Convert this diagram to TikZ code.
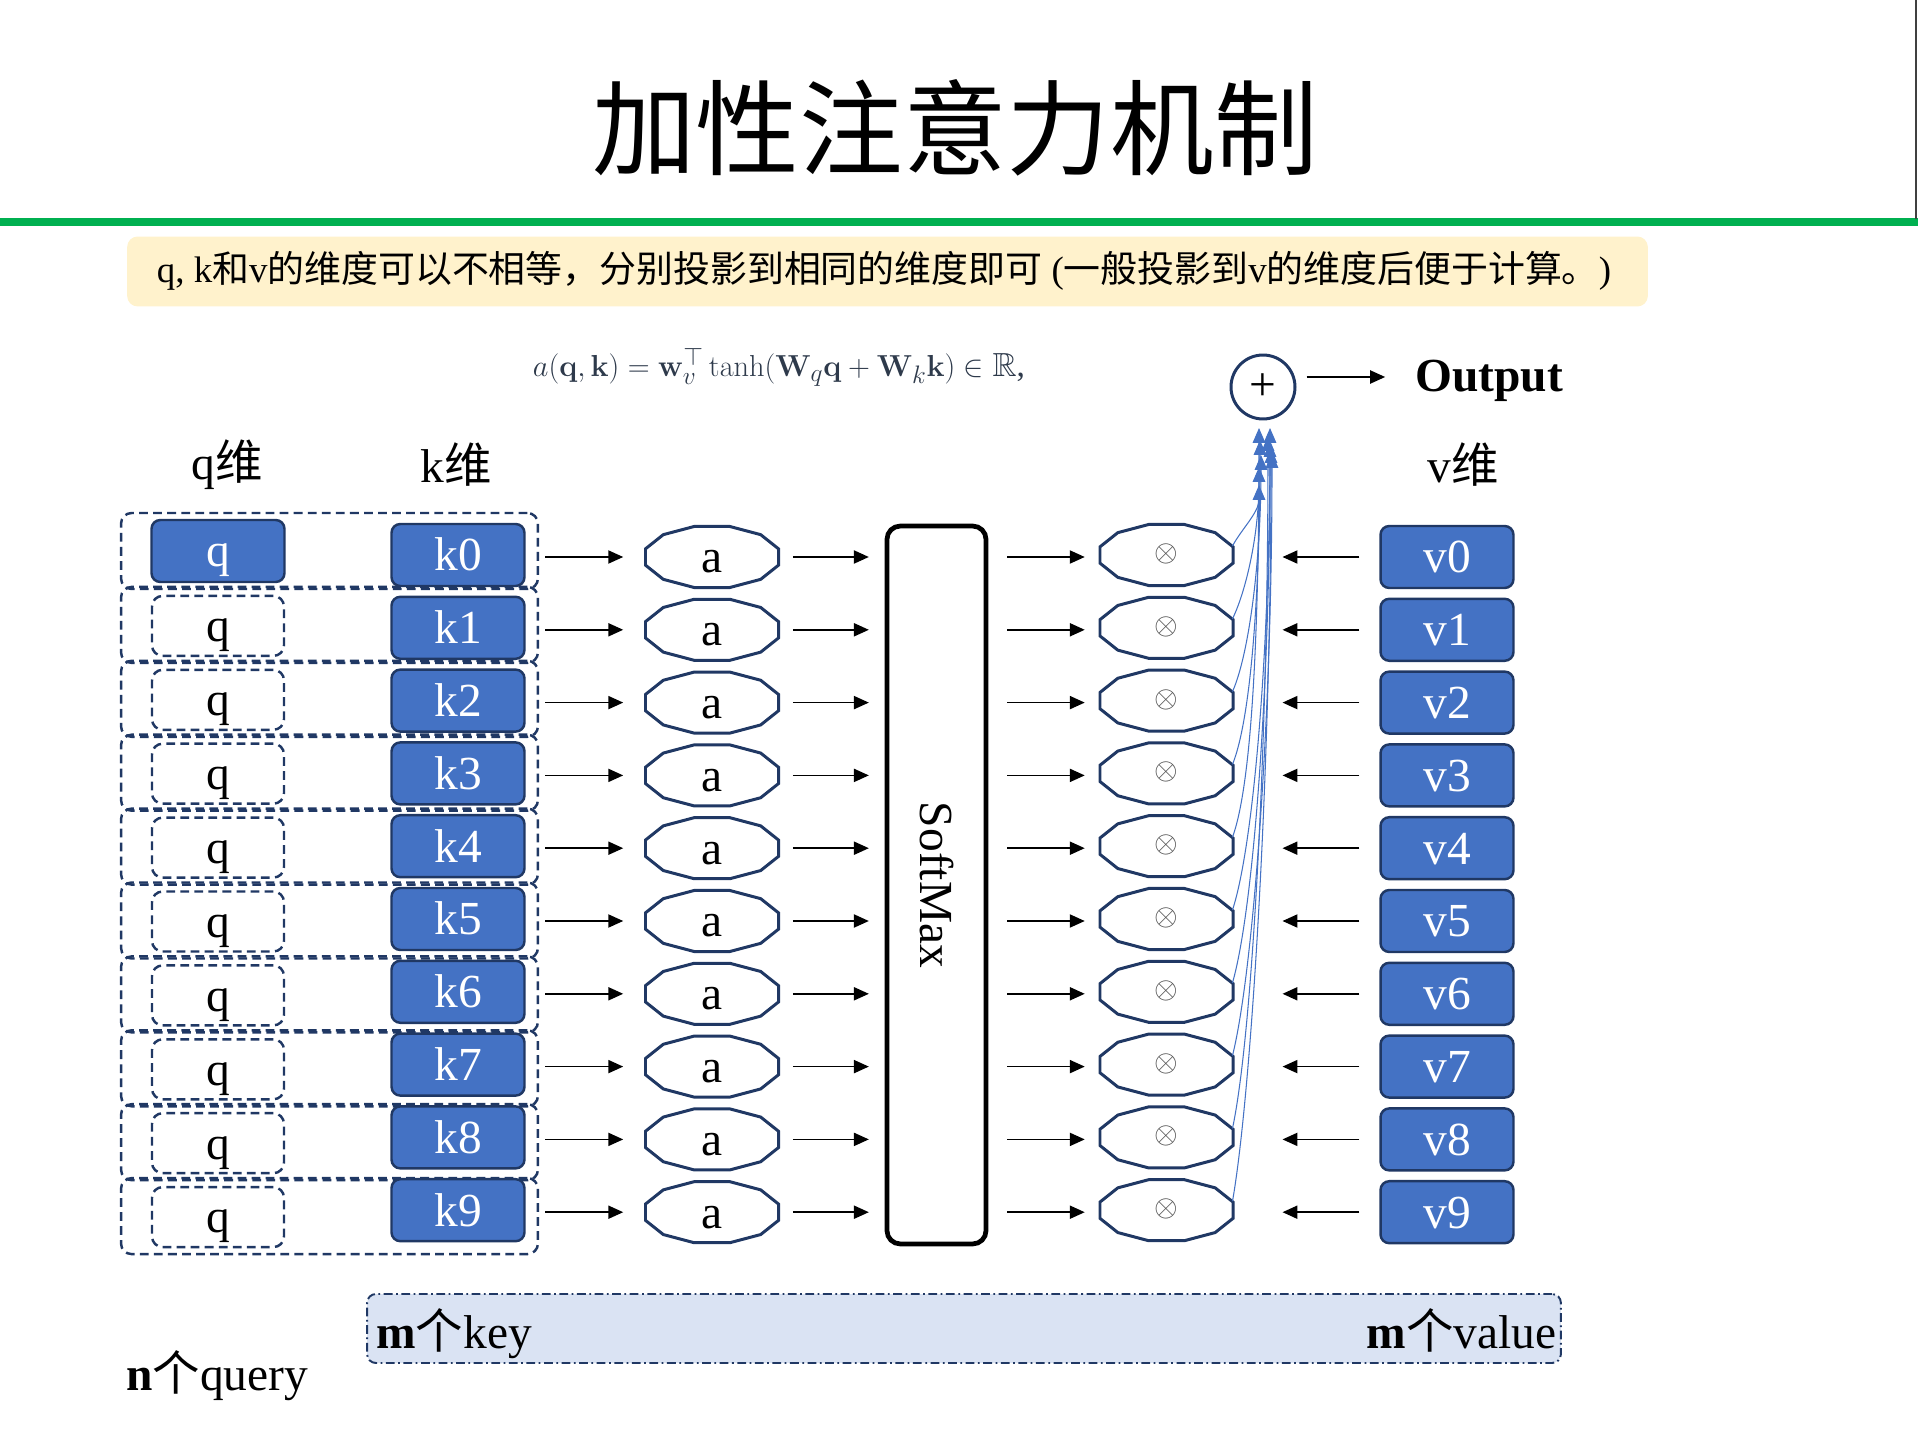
\documentclass[tikz,border=0pt]{standalone}
\usepackage{amsmath,amssymb}
\usepackage[no-math]{fontspec}
\setmainfont{Liberation Serif}
\newfontfamily\cjk{Noto Sans CJK SC}
\usetikzlibrary{arrows.meta,calc}

\definecolor{dnavy}{HTML}{203864}
\definecolor{boxblue}{HTML}{4472C4}
\definecolor{paleyellow}{HTML}{FFF2CC}
\definecolor{paleblue}{HTML}{DAE3F3}
\definecolor{rulegreen}{HTML}{00B050}
\definecolor{slate}{HTML}{2E3A4B}

\begin{document}
\begin{tikzpicture}[x=0.02cm,y=-0.02cm,
  lbl/.style={font=\fontsize{27}{32}\selectfont},
  boxtext/.style={lbl, inner sep=0pt, text height=18pt, text depth=0pt},
  kbox/.style={boxtext, draw=dnavy, line width=1.4pt, fill=boxblue, text=white,
    rounded corners=5pt, minimum width=2.66cm, minimum height=1.24cm},
  qdash/.style={boxtext, draw=dnavy, line width=1.4pt, dash pattern=on 5pt off 3pt,
    rounded corners=6pt, minimum width=2.64cm, minimum height=1.20cm},
  rowbox/.style={draw=dnavy, line width=1.4pt, dash pattern=on 5pt off 3pt,
    rounded corners=6pt, minimum width=8.34cm, minimum height=1.52cm, inner sep=0pt},
  polytext/.style={boxtext, minimum width=2.66cm, minimum height=1.22cm},
  multext/.style={inner sep=0pt, minimum width=2.66cm, minimum height=1.22cm,
    font=\fontsize{19}{22}\selectfont, text=black!68},
  poly/.style={draw=dnavy, line width=1.7pt, fill=white},
  arr/.style={-{Triangle[length=8.5pt,width=7.5pt]}, line width=0.85pt},
  sumarr/.style={-{Triangle[length=8.5pt,width=7.2pt]}, line width=0.6pt, draw=boxblue},
]
\useasboundingbox (0,0) rectangle (1918,1439);

% heading, rule and note
\node[font=\cjk\fontsize{59}{70}\selectfont] (title) at (955,128) {加性注意力机制};
\draw[line width=4pt, rulegreen] (0,222) -- (1918,222);
\draw[line width=1pt, black!75] (1916,0) -- (1916,219);
\node[fill=paleyellow, rounded corners=6pt, minimum width=30.42cm, minimum height=1.4cm,
      inner sep=0pt] (note) at (887.5,271.5) {};
\node[font=\fontsize{21}{25}\selectfont] (notetext) at (884,271)
  {q, k{\cjk 和}v{\cjk 的维度可以不相等，分别投影到相同的维度即可} ({\cjk 一般投影到}v{\cjk 的维度后便于计算。})};

% score function
\node[text=slate, font=\fontsize{19}{22}\selectfont] (eq) at (779,367)
  {$a(\mathbf{q},\mathbf{k}) = \mathbf{w}_v^{\top} \tanh(\mathbf{W}_q\mathbf{q}+\mathbf{W}_k\mathbf{k}) \in \mathbb{R}$,};

% column headings
\node[lbl] (hq) at (227,465) {q{\cjk 维}};
\node[lbl] (hk) at (456,465) {k{\cjk 维}};
\node[lbl] (hv) at (1463,465) {v{\cjk 维}};

% summation and output
\node[circle, draw=dnavy, line width=1.7pt, minimum size=1.28cm, inner sep=0pt, lbl] (plus) at (1263,387) {+};
\node[lbl, inner sep=0pt, anchor=base west] (outp) at (1415,392) {\textbf{Output}};
\draw[arr, shorten <=5.7pt, shorten >=17pt] (plus.east |- 0,377) -- (outp.west |- 0,377);

% softmax block (rotated clockwise: its south side faces left)
\node[draw, fill=white, line width=2.7pt, rounded corners=7.5pt, rotate=-90, minimum width=14.36cm,
      minimum height=1.98cm, lbl, inner sep=0pt] (sm) at (936.5,885) {SoftMax};

% rows
\foreach \i in {0,...,9} {
  \pgfmathsetmacro\y{557+72.8*\i}
  \pgfmathsetmacro\yb{551+73.9*\i}
  \node[rowbox] (r\i) at (329.5,\yb) {};
  \ifnum\i=0
    \node[kbox] (q\i) at (218,\yb) {q};
  \else
    \node[qdash] (q\i) at (218,\yb+1) {q};
  \fi
  \node[kbox] (k\i) at (458,\y-2) {k\i};
  % score cell
  \draw[poly, shift={(712,\y)}] (15:68.85 and 31.6)
    \foreach \t in {45,75,...,345} { -- (\t:68.85 and 31.6) } -- cycle;
  \node[polytext] (a\i) at (712,\y) {a};
  % weighting cell
  \draw[poly, shift={(1166.5,\y-2)}] (15:68.85 and 31.6)
    \foreach \t in {45,75,...,345} { -- (\t:68.85 and 31.6) } -- cycle;
  \node[multext] (m\i) at (1166.5,\y-3) {$\otimes$};
  \node[kbox] (v\i) at (1447,\y) {v\i};
  % links
  \draw[arr, shorten <=11pt, shorten >=12.5pt] (k\i.east |- a\i.west) -- (a\i.west);
  \draw[arr, shorten <=8pt, shorten >=9pt] (a\i.east) -- (a\i.east -| sm.south);
  \draw[arr, shorten <=10.8pt, shorten >=8.5pt] (a\i.east -| sm.north) -- (a\i.east -| m\i.west);
  \draw[arr, shorten <=11.4pt, shorten >=28pt] (v\i.west) -- (v\i.west -| m\i.east);
}

% weighted values flowing into the sum
\foreach \i/\tx/\ty in {0/1259/485,1/1259/467,2/1261/455,3/1260/440,4/1259/428,
                        5/1270/428,6/1270/442,7/1272/453,8/1268/436,9/1271/448} {
  \pgfmathsetmacro\y{557+72.8*\i}
  \pgfmathsetmacro\dy{\y-11-\ty}
  \pgfmathsetmacro\od{(12+0.12*\dy)*0.569}
  \pgfmathsetmacro\id{(0.45*\dy)*0.569}
  \pgfmathsetmacro\oa{62+2*\i}
  \coordinate (s\i) at (1232.5,\y-11);
  \coordinate (t\i) at (\tx,\ty);
  \draw[sumarr] (s\i) to[out=\oa,in=-90,out distance=\od pt,in distance=\id pt] (t\i);
}

% key / value band and counts
\node[fill=paleblue, draw=dnavy, line width=1.1pt, dash pattern=on 5pt off 2pt on 1pt off 2pt,
      rounded corners=5pt, minimum width=23.88cm, minimum height=1.38cm, inner sep=0pt] (band) at (964,1328.5) {};
\node[lbl, inner sep=0pt, anchor=base west] (mk) at (376,1348) {\textbf{m}{\cjk 个}key};
\node[lbl, inner sep=0pt, anchor=base east] (mv) at (1557,1348) {\textbf{m}{\cjk 个}value};
\node[lbl, inner sep=0pt, anchor=base west] (nq) at (126,1390) {\textbf{n}{\cjk 个}query};
\end{tikzpicture}
\end{document}
